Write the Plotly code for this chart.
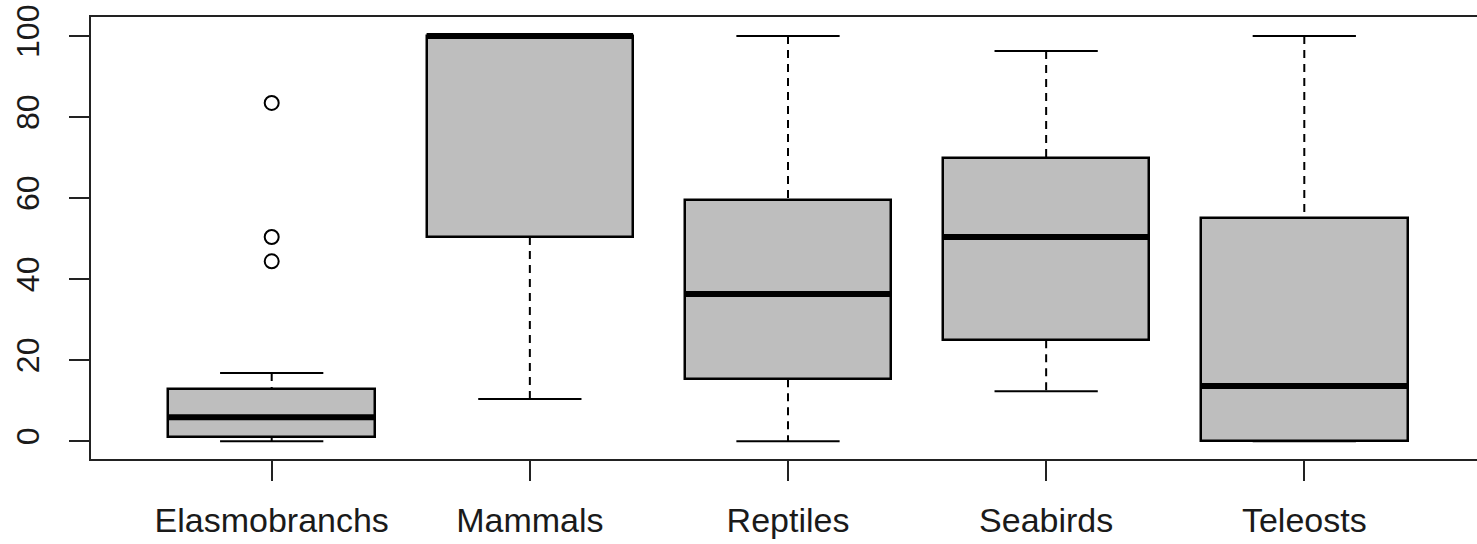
import plotly.graph_objects as go

categories = ["Elasmobranchs", "Mammals", "Reptiles", "Seabirds", "Teleosts"]
lower_whisker = [0.0, 10.4, 0.0, 12.3, 0.0]
q1 = [1.0, 50.4, 15.3, 24.9, 0.0]
median = [5.9, 100.0, 36.3, 50.4, 13.6]
q3 = [12.8, 100.0, 59.5, 69.9, 55.1]
upper_whisker = [16.8, 100.0, 100.0, 96.3, 100.0]
outlier_group = ["Elasmobranchs", "Elasmobranchs", "Elasmobranchs"]
outlier_values = [83.5, 50.4, 44.4]
y_ticks = [0, 20, 40, 60, 80, 100]

pos = list(range(1, len(categories) + 1))
box_half = 0.4
cap_half = 0.2
FONT = "Liberation Sans, Arial, sans-serif"

fig = go.Figure()

# whiskers (dashed)
wx, wy = [], []
for p, lo, a, b, hi in zip(pos, lower_whisker, q1, q3, upper_whisker):
    wx += [p, p, None, p, p, None]
    wy += [hi, b, None, a, lo, None]
fig.add_trace(go.Scatter(x=wx, y=wy, mode="lines", hoverinfo="skip",
                         line=dict(color="black", width=2, dash="8px,6px"), showlegend=False))

# staples
cx, cy = [], []
for p, lo, hi in zip(pos, lower_whisker, upper_whisker):
    cx += [p - cap_half, p + cap_half, None, p - cap_half, p + cap_half, None]
    cy += [hi, hi, None, lo, lo, None]
fig.add_trace(go.Scatter(x=cx, y=cy, mode="lines", hoverinfo="skip",
                         line=dict(color="black", width=2), showlegend=False))

# boxes
fig.add_trace(go.Bar(x=pos, y=[b - a for a, b in zip(q1, q3)], base=q1, width=2 * box_half,
                     marker=dict(color="#BEBEBE", line=dict(color="black", width=2.5)),
                     showlegend=False, hoverinfo="skip"))

# medians
mx, my = [], []
for p, m in zip(pos, median):
    mx += [p - box_half, p + box_half, None]
    my += [m, m, None]
fig.add_trace(go.Scatter(x=mx, y=my, mode="lines", hoverinfo="skip",
                         line=dict(color="black", width=6), showlegend=False))

# outliers
fig.add_trace(go.Scatter(x=[pos[categories.index(g)] for g in outlier_group], y=outlier_values,
                         mode="markers", showlegend=False,
                         marker=dict(symbol="circle-open", size=14, color="black",
                                     line=dict(width=2, color="black"))))

fig.update_layout(
    width=1487, height=544,
    margin=dict(l=91, r=2, t=17, b=85, autoexpand=False),
    paper_bgcolor="white", plot_bgcolor="white",
    font=dict(family=FONT, size=34, color="#1a1a1a"),
    bargap=0,
)
fig.update_xaxes(range=[0.3, 5.7], tickmode="array", tickvals=pos, ticktext=categories,
                 showgrid=False, zeroline=False, showline=True, mirror=True, automargin=False,
                 linecolor="#222", linewidth=2, ticks="outside", ticklen=20, tickwidth=2,
                 tickcolor="#222", ticklabelstandoff=10, ticklabeloverflow="allow",
                 tickfont=dict(size=34, family=FONT, color="#1a1a1a"))
fig.update_yaxes(range=[-4.4, 104.7], tickmode="array", tickvals=y_ticks,
                 ticktext=[str(v) for v in y_ticks], tickangle=-90,
                 showgrid=False, zeroline=False, showline=True, mirror=True, automargin=False,
                 linecolor="#222", linewidth=2, ticks="outside", ticklen=20, tickwidth=2,
                 tickcolor="#222", ticklabelstandoff=17, ticklabeloverflow="allow",
                 tickfont=dict(size=32, family=FONT, color="#1a1a1a"))

fig.write_html("out.html", config={"displayModeBar": False},
               post_script="document.body.style.margin='0px';document.body.style.overflow='hidden';")
